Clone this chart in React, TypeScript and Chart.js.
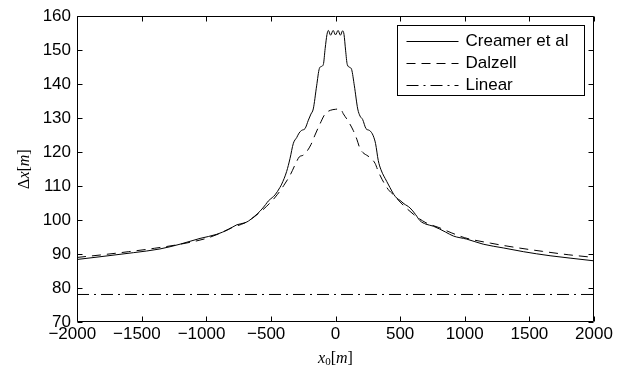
import React, { useEffect, useRef } from "react";
import { Chart, registerables } from "chart.js";

Chart.register(...registerables);

// ---- data ----
const creamerX = [
  -2000, -1822, -1564, -1358, -1203, -1048, -919, -830, -764, -700, -674, -630, -584, -540, -520, -490, -468, -430,
  -416, -378, -352, -326, -300, -282, -262, -236, -210, -190, -172, -146, -125, -110, -94, -80, -66, -55, -38, -18,
  0, 20, 38, 55, 66, 78, 91, 112, 125, 146, 172, 190, 210, 236, 262, 278, 292, 310, 331, 352,
  396, 421, 450, 473, 499, 530, 576, 620, 654, 700, 757, 850, 912, 1015, 1143, 1298, 1453, 1660, 1815, 2000,
];
const creamerY = [
  88.4, 89.2, 90.4, 91.5, 92.9, 94.6, 95.8, 97.2, 98.6, 99.2, 99.7, 101.0, 102.6, 104.6, 105.6, 106.6, 107.4, 109.6,
  110.6, 114.3, 118.1, 122.6, 124.3, 125.6, 126.4, 126.9, 129.4, 131.2, 132.7, 139.5, 144.6, 145.2, 145.8, 150.5, 154.6,
  155.8, 154.4, 155.8, 154.5, 155.8, 154.4, 155.7, 154.6, 150.0, 145.8, 144.9, 144.3, 139.5,
  132.7, 130.6, 129.6, 126.9, 126.4, 125.8, 124.8, 122.5, 117.5, 114.8, 111.4, 109.6, 107.6, 106.5, 105.8, 104.8, 103.6,
  101.6, 99.8, 98.8, 98.2, 96.5, 95.3, 94.4, 92.9, 91.8, 90.7, 89.5, 88.8, 88.0,
];
const dalzellX = [
  -2000, -1800, -1600, -1400, -1200, -1000, -900, -800, -700, -600, -500, -450, -400, -350, -300, -280, -250, -220,
  -190, -159, -120, -81, -40, 0, 22, 45, 60, 90, 137, 165, 190, 220, 241, 270, 306, 331, 360, 408, 450, 500, 600,
  700, 800, 900, 1000, 1200, 1400, 1600, 1800, 2000,
];
const dalzellY = [
  89.0, 89.8, 90.7, 91.7, 92.9, 94.6, 96.0, 97.8, 99.2, 101.8, 105.3, 107.5, 110.2, 113.3, 117.3, 118.6, 119.1, 120.3,
  122.2, 125.0, 128.3, 131.2, 132.3, 132.6, 132.7, 132.4, 131.3, 129.6, 126.4, 123.8, 121.0, 119.6, 119.1, 118.3, 116.7,
  114.3, 112.0, 109.0, 107.4, 105.3, 101.8, 99.2, 97.8, 96.2, 94.8, 93.2, 91.9, 90.8, 89.8, 89.0,
];
const linearX = [-2000, 2000];
const linearY = [78.1, 78.1];

const seriesNames = ["Creamer et al", "Dalzell", "Linear"];
const xMin = -2000;
const xMax = 2000;
const xStep = 500;
const yMin = 70;
const yMax = 160;
const yStep = 10;

const SANS = "'Liberation Sans', Arial, Helvetica, sans-serif";
const SERIF = "'Liberation Serif', 'DejaVu Serif', serif";
const FS = 17;

type Part = { t: string; italic?: boolean; size?: number; dy?: number };

function drawRich(ctx: CanvasRenderingContext2D, parts: Part[], cx: number, cy: number) {
  const fontOf = (p: Part) => `${p.italic ? "italic " : ""}${p.size ?? 16}px ${SERIF}`;
  let total = 0;
  for (const p of parts) {
    ctx.font = fontOf(p);
    total += ctx.measureText(p.t).width;
  }
  let x = cx - total / 2;
  ctx.textAlign = "left";
  ctx.textBaseline = "middle";
  for (const p of parts) {
    ctx.font = fontOf(p);
    ctx.fillText(p.t, x, cy + (p.dy ?? 0));
    x += ctx.measureText(p.t).width;
  }
}

const decor = {
  id: "decor",
  afterDatasetsDraw(chart: any) {
    const { ctx, chartArea: a, scales } = chart;
    const xs = scales.x;
    const ys = scales.y;
    const L = Math.round(a.left) + 0.5;
    const R = Math.round(a.right) - 0.5;
    const T = Math.round(a.top) + 0.5;
    const B = Math.round(a.bottom) - 0.5;
    ctx.save();
    ctx.strokeStyle = "#000";
    ctx.lineWidth = 1;
    ctx.setLineDash([]);
    ctx.beginPath();
    ctx.rect(L, T, R - L, B - T);
    const tl = 5;
    for (const t of xs.ticks) {
      const px = Math.round(xs.getPixelForValue(t.value)) + 0.5;
      ctx.moveTo(px, B);
      ctx.lineTo(px, B - tl);
      ctx.moveTo(px, T);
      ctx.lineTo(px, T + tl);
    }
    for (const t of ys.ticks) {
      const py = Math.round(ys.getPixelForValue(t.value)) + 0.5;
      ctx.moveTo(L, py);
      ctx.lineTo(L + tl, py);
      ctx.moveTo(R, py);
      ctx.lineTo(R - tl, py);
    }
    ctx.stroke();

    // legend
    const bw = 187;
    const bh = 70;
    const bx = Math.round(a.right) - 10 - bw + 0.5;
    const by = Math.round(a.top) + 9 + 0.5;
    ctx.fillStyle = "#fff";
    ctx.fillRect(bx, by, bw, bh);
    ctx.strokeRect(bx, by, bw, bh);
    const rows = [15, 37, 59];
    chart.data.datasets.forEach((ds: any, i: number) => {
      const y = Math.round(by + rows[i]) + 0.5;
      ctx.beginPath();
      ctx.setLineDash(ds.borderDash || []);
      ctx.strokeStyle = ds.borderColor;
      ctx.lineWidth = ds.borderWidth;
      ctx.moveTo(bx + 9, y);
      ctx.lineTo(bx + 61, y);
      ctx.stroke();
      ctx.setLineDash([]);
      ctx.fillStyle = "#000";
      ctx.font = `${FS}px ${SANS}`;
      ctx.textAlign = "left";
      ctx.textBaseline = "middle";
      ctx.fillText(ds.label, bx + 68, y);
    });

    // axis titles
    ctx.fillStyle = "#000";
    ctx.save();
    ctx.translate(25, (a.top + a.bottom) / 2);
    ctx.rotate(-Math.PI / 2);
    drawRich(ctx, [{ t: "\u0394" }, { t: "x", italic: true }, { t: "[" }, { t: "m", italic: true }, { t: "]" }], 0, 0);
    ctx.restore();
    drawRich(
      ctx,
      [{ t: "x", italic: true }, { t: "0", size: 11, dy: 3 }, { t: "[" }, { t: "m", italic: true }, { t: "]" }],
      (a.left + a.right) / 2,
      359
    );
    ctx.restore();
  },
};

export default function App() {
  const ref = useRef<HTMLCanvasElement>(null);
  useEffect(() => {
    const canvas = ref.current!;
    const mk = (xs: number[], ys: number[]) => xs.map((x, i) => ({ x, y: ys[i] }));
    const chart = new Chart(canvas, {
      type: "line",
      data: {
        datasets: [
          {
            label: seriesNames[0],
            data: mk(creamerX, creamerY),
            borderColor: "#000",
            borderWidth: 1,
            pointRadius: 0,
            cubicInterpolationMode: "monotone",
            fill: false,
          },
          {
            label: seriesNames[1],
            data: mk(dalzellX, dalzellY),
            borderColor: "#000",
            borderWidth: 1,
            borderDash: [9, 6],
            pointRadius: 0,
            cubicInterpolationMode: "monotone",
            fill: false,
          },
          {
            label: seriesNames[2],
            data: mk(linearX, linearY),
            borderColor: "#000",
            borderWidth: 1,
            borderDash: [12, 5, 2, 5],
            pointRadius: 0,
            fill: false,
          },
        ],
      },
      options: {
        animation: false,
        responsive: false,
        devicePixelRatio: 1,
        layout: { padding: { left: 0, right: 37, top: 13, bottom: 0 } },
        plugins: { legend: { display: false }, tooltip: { enabled: false } },
        scales: {
          x: {
            type: "linear",
            min: xMin,
            max: xMax,
            grid: { display: false, drawTicks: false },
            border: { display: false },
            afterFit: (s: any) => {
              s.height = 52;
            },
            ticks: {
              stepSize: xStep,
              color: "#000",
              padding: 2,
              maxRotation: 0,
              autoSkip: false,
              font: { family: SANS, size: FS },
              callback: (v: any) => (v < 0 ? "\u2212" + Math.abs(v) + "\u2007" : String(v)),
            },
          },
          y: {
            type: "linear",
            min: yMin,
            max: yMax,
            grid: { display: false, drawTicks: false },
            border: { display: false },
            afterFit: (s: any) => {
              s.width = 77;
            },
            ticks: {
              stepSize: yStep,
              color: "#000",
              padding: 6,
              autoSkip: false,
              font: { family: SANS, size: FS },
            },
          },
        },
      },
      plugins: [decor],
    } as any);
    return () => chart.destroy();
  }, []);
  return (
    <div style={{ position: "fixed", left: 0, top: 0, width: 631, height: 374, background: "#fff" }}>
      <canvas ref={ref} width={631} height={374} style={{ display: "block", width: 631, height: 374 }} />
    </div>
  );
}
